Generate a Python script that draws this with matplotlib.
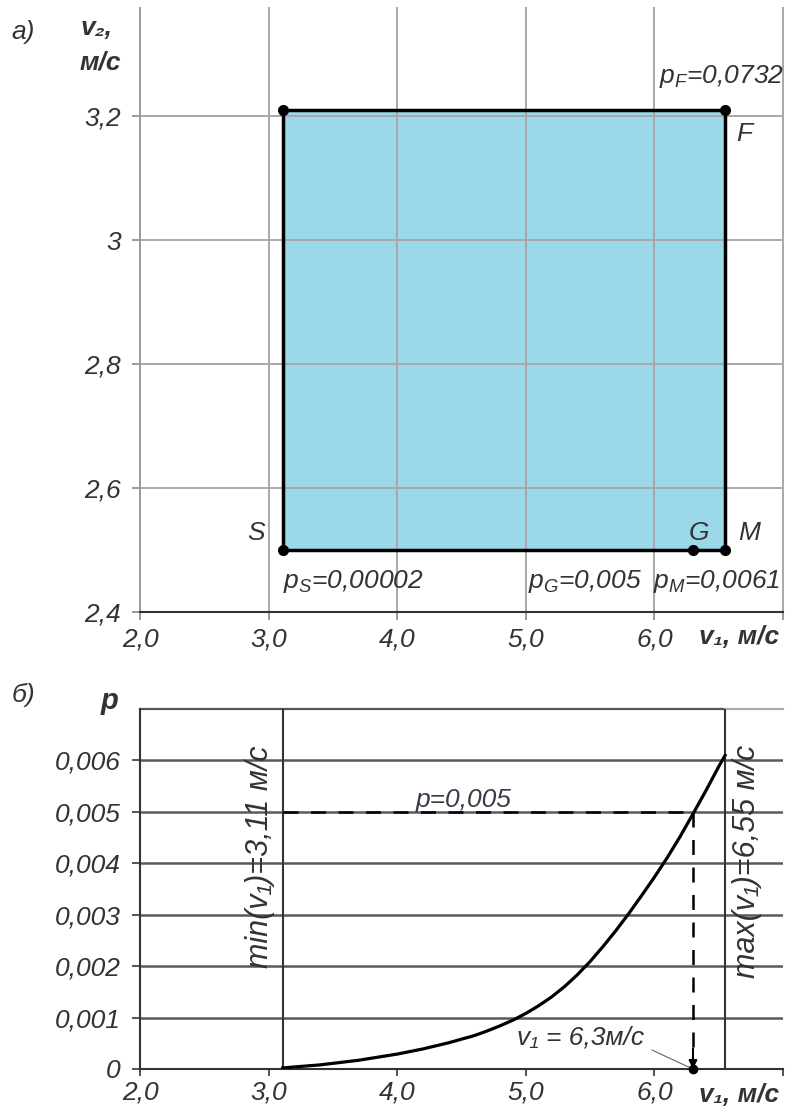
import matplotlib
matplotlib.use('Agg')
import matplotlib.pyplot as plt

plt.rcParams['font.family'] = ['Liberation Sans', 'DejaVu Sans']
plt.rcParams['font.style'] = 'italic'
plt.rcParams['mathtext.fontset'] = 'custom'
plt.rcParams['mathtext.rm'] = 'Liberation Sans:italic'
plt.rcParams['mathtext.it'] = 'Liberation Sans:italic'
plt.rcParams['mathtext.bf'] = 'Liberation Sans:bold:italic'

# ---------------- data ----------------
x_ticks = [2.0, 3.0, 4.0, 5.0, 6.0, 7.0]
x_labels = ['2,0', '3,0', '4,0', '5,0', '6,0', '']
top_y_ticks = [2.4, 2.6, 2.8, 3.0, 3.2]
top_y_labels = ['2,4', '2,6', '2,8', '3', '3,2']

v1_min = 3.11
v1_max = 6.55
v2_min = 2.5
v2_max = 3.21
v1_G = 6.3

point_names = ['S', 'G', 'M', 'F']
point_v1 = [3.11, 6.3, 6.55, 6.55]
point_v2 = [2.5, 2.5, 2.5, 3.21]
point_p = ['0,00002', '0,005', '0,0061', '0,0732']

curve_v1 = [3.11, 3.2, 3.3, 3.4, 3.5, 3.6, 3.7, 3.8, 3.9, 4.0, 4.1, 4.2,
            4.3, 4.4, 4.5, 4.6, 4.7, 4.8, 4.9, 5.0, 5.1, 5.2, 5.3, 5.4,
            5.5, 5.6, 5.7, 5.8, 5.9, 6.0, 6.1, 6.2, 6.3, 6.4, 6.5, 6.55]
curve_p = [0.00002, 0.00004, 0.00006, 0.00008, 0.00011, 0.00014, 0.00017,
           0.00021, 0.00025, 0.00029, 0.00034, 0.00039, 0.00045, 0.00051,
           0.00058, 0.00065, 0.00074, 0.00084, 0.00095, 0.00108, 0.00123,
           0.00140, 0.00160, 0.00183, 0.00209, 0.00238, 0.00269, 0.00302,
           0.00337, 0.00373, 0.00411, 0.00452, 0.00496, 0.00541, 0.00588,
           0.00610]

bot_y_ticks = [0, 0.001, 0.002, 0.003, 0.004, 0.005, 0.006]
bot_y_labels = ['0', '0,001', '0,002', '0,003', '0,004', '0,005', '0,006']
p_level = 0.005

TXT = '#333333'
FS = 19
FSR = 22

W, H = 787, 1112
fig = plt.figure(figsize=(W / 100, H / 100), dpi=100)

# ---------------- top chart ----------------
ax1 = fig.add_axes([140 / W, 1 - 612 / H, 643 / W, 604 / H])
ax1.set_xlim(2.0, 7.0)
ax1.set_ylim(2.4, 3.375)
for s in ['top', 'right']:
    ax1.spines[s].set_visible(False)
ax1.spines['left'].set_color('#9a9a9a')
ax1.spines['left'].set_linewidth(1.4)
ax1.spines['bottom'].set_color('#333333')
ax1.spines['bottom'].set_linewidth(1.5)
ax1.set_xticks(x_ticks)
ax1.set_xticklabels(x_labels)
ax1.set_yticks(top_y_ticks)
ax1.set_yticklabels(top_y_labels)
ax1.tick_params(axis='y', length=6, width=1.4, color='#9a9a9a', pad=8,
                labelsize=FS, labelcolor=TXT)
ax1.tick_params(axis='x', length=6, width=1.4, color='#9a9a9a', pad=5,
                labelsize=FS, labelcolor=TXT)
for xv in x_ticks[1:]:
    ax1.axvline(xv, color='#a8a8a8', lw=1.4, zorder=2, clip_on=False)
for yv in top_y_ticks[1:]:
    ax1.axhline(yv, color='#a8a8a8', lw=1.4, zorder=2)

rx = [v1_min, v1_max, v1_max, v1_min, v1_min]
ry = [v2_min, v2_min, v2_max, v2_max, v2_min]
ax1.fill(rx, ry, facecolor='#9AD8EA', edgecolor='none', zorder=1)
ax1.plot(rx, ry, color='black', lw=2.5, zorder=3)
ax1.plot(point_v1 + [v1_min], point_v2 + [v2_max], 'o', color='black',
         ms=7, zorder=4, clip_on=False)

# point labels
ax1.text(2.97, 2.527, point_names[0], ha='right', va='center', fontsize=FS, color=TXT)
ax1.text(6.35, 2.527, point_names[1], ha='center', va='center', fontsize=FS, color=TXT)
ax1.text(6.74, 2.527, point_names[2], ha='center', va='center', fontsize=FS, color=TXT)
ax1.text(6.70, 3.171, point_names[3], ha='center', va='center', fontsize=FS, color=TXT)
ax1.text(3.11, 2.449, r'$p_S$=' + point_p[0], ha='left', va='center', fontsize=FS, color=TXT)
ax1.text(5.02, 2.449, r'$p_G$=' + point_p[1], ha='left', va='center', fontsize=FS, color=TXT)
ax1.text(5.99, 2.449, r'$p_M$=' + point_p[2], ha='left', va='center', fontsize=FS, color=TXT)
ax1.text(6.035, 3.265, r'$p_F$=' + point_p[3], ha='left', va='center', fontsize=FS, color=TXT)
ax1.text(6.97, 2.4 - 13 / 618.6, 'v₁, м/с', ha='right', va='top',
         fontsize=FS, color=TXT, fontweight='bold')

fig.text(23 / W, 1 - 32 / H, 'а)', ha='center', va='center', fontsize=FS, color=TXT)
fig.text(97 / W, 1 - 28 / H, 'v₂,', ha='center', va='center', fontsize=FS,
         color=TXT, fontweight='bold')
fig.text(100 / W, 1 - 63 / H, 'м/с', ha='center', va='center', fontsize=FS,
         color=TXT, fontweight='bold')

# ---------------- bottom chart ----------------
ax2 = fig.add_axes([140 / W, 1 - 1069 / H, 643 / W, 360 / H])
ax2.set_xlim(2.0, 7.0)
ax2.set_ylim(0, 0.007)
for s in ['top', 'right']:
    ax2.spines[s].set_visible(False)
for s in ['left', 'bottom']:
    ax2.spines[s].set_color('#333333')
    ax2.spines[s].set_linewidth(1.5)
ax2.set_xticks(x_ticks)
ax2.set_xticklabels(x_labels)
ax2.set_yticks(bot_y_ticks)
ax2.set_yticklabels(bot_y_labels)
ax2.tick_params(axis='y', length=6, width=1.4, color='#555555', pad=8,
                labelsize=FS, labelcolor=TXT)
ax2.tick_params(axis='x', length=5, width=1.4, color='#555555', pad=3,
                labelsize=FS, labelcolor=TXT)
for yv in bot_y_ticks[1:]:
    ax2.axhline(yv, color='#5a5a5a', lw=1.8, zorder=1)
ax2.plot([2.0, v1_max], [0.007, 0.007], color='#555555', lw=1.6, clip_on=False)
ax2.plot([v1_max, 7.0], [0.007, 0.007], color='#aaaaaa', lw=1.6, clip_on=False)
ax2.axvline(v1_min, color='#333333', lw=1.5, zorder=2)
ax2.axvline(v1_max, color='#333333', lw=1.5, zorder=2)

ax2.plot(curve_v1, curve_p, color='black', lw=2.3, zorder=4)

ax2.plot([v1_min, v1_G], [p_level, p_level], color='black', lw=1.8,
         dashes=(6, 5), zorder=3)
ax2.plot([v1_G, v1_G], [p_level, 0.0004], color='black', lw=1.8,
         dashes=(6, 5), zorder=3)
ax2.annotate('', xy=(v1_G, 0.0), xytext=(v1_G, 0.0004),
             arrowprops=dict(arrowstyle='-|>', color='black', lw=1.5,
                             mutation_scale=12, shrinkA=0, shrinkB=0), zorder=5)
ax2.plot([v1_G], [0.0], 'o', color='black', ms=6, zorder=6, clip_on=False)
ax2.annotate('', xy=(v1_G, 0.0), xytext=(5.98, 0.00037),
             arrowprops=dict(arrowstyle='-', color='#666666', lw=0.8,
                             shrinkA=0, shrinkB=0))

ax2.text(4.52, 0.00509, 'p=0,005', ha='center', va='baseline', fontsize=FS, color='#3a3a4a')
ax2.text(4.93, 0.00062, 'v₁ = 6,3м/с', ha='left', va='center', fontsize=FS, color=TXT)
ax2.text(2.93, 0.00413, 'min(v₁)=3,11 м/с', rotation=90, ha='center', va='center',
         fontsize=FSR, color=TXT)
ax2.text(6.72, 0.00403, 'max(v₁)=6,55 м/с', rotation=90, ha='center', va='center',
         fontsize=FSR, color=TXT)
ax2.text(6.97, -0.00028, 'v₁, м/с', ha='right', va='top', fontsize=FS, color=TXT,
         fontweight='bold')

fig.text(23 / W, 1 - 695 / H, 'б)', ha='center', va='center', fontsize=FS, color=TXT)
fig.text(110 / W, 1 - 701 / H, 'p', ha='center', va='center', fontsize=FS + 2,
         color=TXT, fontweight='bold')

fig.savefig('out.png', dpi=100)
